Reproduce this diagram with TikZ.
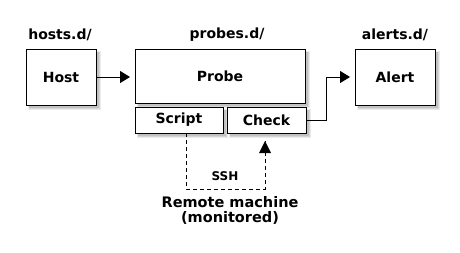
\documentclass[tikz,border=0pt]{standalone}
\usepackage{fontspec}
\setmainfont{DejaVu Sans}
\usetikzlibrary{arrows.meta}
\begin{document}
\begin{tikzpicture}[x=1pt,y=-1pt,
  txt/.style={font=\fontsize{14}{15}\selectfont\bfseries, inner sep=0pt},
  box/.style={draw=black, line width=1pt, fill=white, minimum width=#1, inner sep=0pt, font=\fontsize{14}{16}\selectfont\bfseries},
  shadowed/.style={
    preaction={fill=black!8, draw=black!8, line width=3pt, transform canvas={xshift=3pt,yshift=-3pt}},
    preaction={fill=black!16, draw=black!16, line width=1pt, transform canvas={xshift=3pt,yshift=-3pt}},
    preaction={fill=black!24, transform canvas={xshift=3pt,yshift=-3pt}}},
  arr/.style={line width=1pt, -{Triangle[length=10pt,width=12pt]}},
  dashline/.style={line width=1pt, dashed, dash pattern=on 4pt off 3pt}
]
\useasboundingbox (0,0) rectangle (460,252);
\fill[white] (0,0) rectangle (460,252);
% boxes
\node[box=70pt, minimum height=56pt, shadowed] (host) at (61,77) {Host};
\node[box=170pt, minimum height=54pt, shadowed] (probe) at (220,76) {Probe};
\node[box=88pt, minimum height=26pt, shadowed] (script) at (179,120) {Script};
\node[box=79pt, minimum height=26pt, shadowed] (check) at (266.5,120) {Check};
\node[box=80pt, minimum height=56pt, shadowed] (alert) at (395,77) {Alert};
% group labels
\node[txt] (lhosts) at (60,35) {hosts.d/};
\node[txt] (lprobes) at (227,35) {probes.d/};
\node[txt] (lalerts) at (395,35) {alerts.d/};
% connectors
\coordinate (ptip) at (130,77);
\draw[arr] (host.east |- ptip) -- (ptip);
\coordinate (bend) at (326,77);
\coordinate (atip) at (350,77);
\draw[arr] (check.east) -| (bend) -- (atip);
% ssh dashed
\coordinate (s0) at (186,133);
\coordinate (s1) at (186,189);
\coordinate (s2) at (265,189);
\coordinate (s3) at (265,141);
\draw[dashline] (s0) -- (s1) -- (s2) -- (s3);
\fill (s3) -- ++(-6,12) -- ++(12,0) -- cycle;
\node[txt, font=\fontsize{12}{14}\selectfont\bfseries] (ssh) at (225,176) {SSH};
\node[txt, align=center, font=\fontsize{14.5}{15}\selectfont\bfseries] (remote) at (230,210) {Remote machine\\(monitored)};
\end{tikzpicture}
\end{document}
